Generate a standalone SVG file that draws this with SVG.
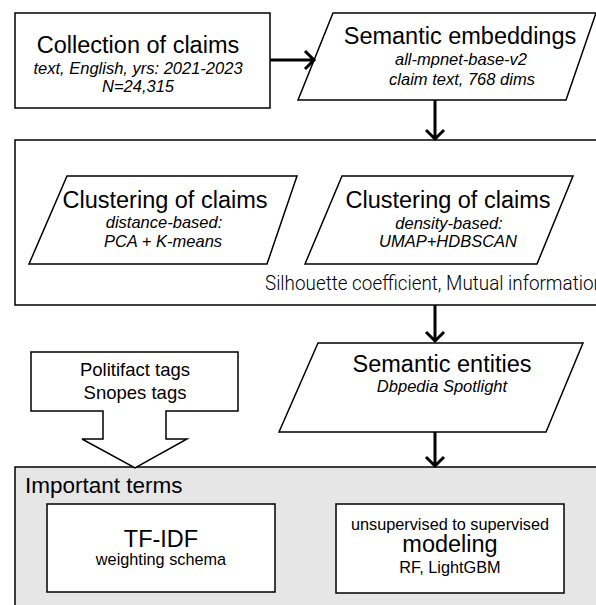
<svg xmlns="http://www.w3.org/2000/svg" width="596" height="605" viewBox="0 0 596 605">
<style>
.box{fill:#fff;stroke:#000;stroke-width:1.5}
.t{font-family:"Liberation Sans",Arial,sans-serif;fill:#000;text-anchor:middle}
.big{font-size:23.5px}
.it{font-size:16.5px;font-style:italic}
.sm{font-size:16.3px}
.con{fill:none;stroke:#000;stroke-width:3}
</style>
<rect x="0" y="0" width="596" height="605" fill="#fff"/>
<g id="container-clustering">
<rect x="15" y="140" width="600" height="165" fill="#fff" stroke="#000" stroke-width="1.5"/>
<text x="288" y="290" transform="scale(0.92,1)" font-family="Roboto,sans-serif" font-weight="300" font-size="20.5" fill="#000">Silhouette coefficient, Mutual information</text>
</g>
<g id="container-terms">
<rect x="15" y="467" width="600" height="150" fill="#e6e6e6" stroke="#000" stroke-width="1.5"/>
<text x="25" y="493" font-family="Liberation Sans,Arial,sans-serif" font-size="22.5" fill="#000">Important terms</text>
</g>
<g id="collection">
<rect class="box" x="15" y="13" width="255" height="95"/>
<text class="t big" x="138" y="53">Collection of claims</text>
<text class="t it" x="138" y="74">text, English, yrs: 2021-2023</text>
<text class="t it" x="138" y="92">N=24,315</text>
</g>
<g id="embeddings">
<polygon class="box" points="333,13 596,13 566,100 298,100"/>
<text class="t big" x="460" y="44">Semantic embeddings</text>
<text class="t it" x="461" y="65">all-mpnet-base-v2</text>
<text class="t it" x="462" y="85">claim text, 768 dims</text>
</g>
<g id="clustering-distance">
<polygon class="box" points="67,176 297,176 267,264 29,264"/>
<text class="t big" x="165" y="208">Clustering of claims</text>
<text class="t it" x="164" y="228">distance-based:</text>
<text class="t it" x="163" y="247">PCA + K-means</text>
</g>
<g id="clustering-density">
<polygon class="box" points="342,176 573,176 537,264 305,264"/>
<text class="t big" x="448" y="208">Clustering of claims</text>
<text class="t it" x="449" y="229">density-based:</text>
<text class="t it" x="448" y="247">UMAP+HDBSCAN</text>
</g>
<g id="entities">
<polygon class="box" points="318,343 583,343 546,432 279,432"/>
<text class="t big" x="442" y="372">Semantic entities</text>
<text class="t it" x="442" y="392">Dbpedia Spotlight</text>
</g>
<g id="tags">
<polygon class="box" points="31,352 238,352 238,411 166,411 166,439 187,439 135,468 82,439 103,439 103,411 31,411"/>
<text class="t" font-size="18.5" x="135" y="376">Politifact tags</text>
<text class="t" font-size="18.5" x="135" y="399">Snopes tags</text>
</g>
<g id="tfidf">
<rect class="box" x="47" y="504" width="228" height="88"/>
<text class="t big" x="161" y="547">TF-IDF</text>
<text class="t sm" x="161" y="565">weighting schema</text>
</g>
<g id="modeling">
<rect class="box" x="336" y="504" width="228" height="89"/>
<text class="t sm" x="450" y="530">unsupervised to supervised</text>
<text class="t big" x="450" y="552">modeling</text>
<text class="t sm" x="450" y="573">RF, LightGBM</text>
</g>
<g id="connectors">
<path class="con" d="M270,60 H314 M305,51 L314,60 L305,69"/>
<path class="con" d="M435,100 V139 M426,130 L435,139 L444,130"/>
<path class="con" d="M435,305 V341 M426,332 L435,341 L444,332"/>
<path class="con" d="M435,432 V466 M426,457 L435,466 L444,457"/>
</g>
</svg>
